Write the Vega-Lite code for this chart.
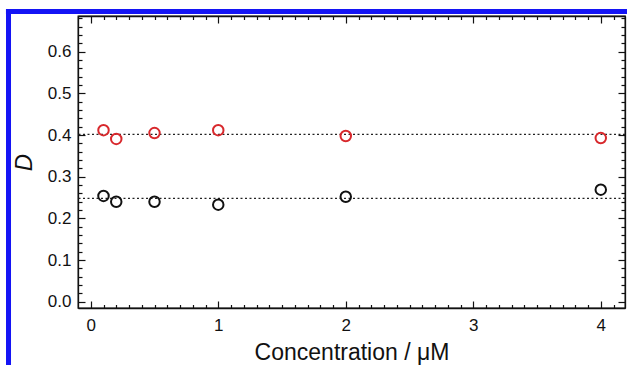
{
  "$schema": "https://vega.github.io/schema/vega-lite/v6.json",
  "autosize": {"type": "none"},
  "padding": {"left": 78, "top": 16, "right": 2, "bottom": 57},
  "width": 547,
  "height": 292,
  "background": "white",
  "config": {
    "font": "Liberation Sans",
    "view": {"stroke": "#111111", "strokeWidth": 1.3},
    "axis": {
      "domainColor": "#111111",
      "domainWidth": 1.3,
      "tickColor": "#111111",
      "tickWidth": 1.2,
      "tickCount": 1000,
      "labelColor": "#111111",
      "titleColor": "#111111",
      "labelFont": "Liberation Sans",
      "titleFont": "Liberation Sans",
      "labelFontSize": 17,
      "titleFontSize": 23,
      "titleFontWeight": "normal",
      "grid": false
    }
  },
  "datasets": {
    "points": [
      {"series": "red", "conc": 0.1, "D": 0.412},
      {"series": "red", "conc": 0.2, "D": 0.391},
      {"series": "red", "conc": 0.5, "D": 0.405},
      {"series": "red", "conc": 1, "D": 0.412},
      {"series": "red", "conc": 2, "D": 0.398},
      {"series": "red", "conc": 4, "D": 0.393},
      {"series": "black", "conc": 0.1, "D": 0.254},
      {"series": "black", "conc": 0.2, "D": 0.240},
      {"series": "black", "conc": 0.5, "D": 0.240},
      {"series": "black", "conc": 1, "D": 0.233},
      {"series": "black", "conc": 2, "D": 0.252},
      {"series": "black", "conc": 4, "D": 0.269}
    ],
    "means": [
      {"series": "red", "D": 0.402},
      {"series": "black", "D": 0.248}
    ]
  },
  "layer": [
    {
      "data": {"name": "means"},
      "mark": {"type": "rule", "strokeDash": [2, 2.5], "strokeWidth": 1.3, "color": "#222222"},
      "encoding": {
        "y": {"field": "D", "type": "quantitative", "scale": {"domain": [-0.015, 0.686], "nice": false, "zero": false}, "axis": null}
      }
    },
    {
      "data": {"name": "points"},
      "mark": {"type": "point", "shape": "circle", "filled": false, "size": 110, "strokeWidth": 2, "opacity": 1},
      "encoding": {
        "x": {
          "field": "conc", "type": "quantitative",
          "scale": {"domain": [-0.1, 4.19], "nice": false, "zero": false},
          "axis": {
            "orient": "bottom",
            "title": "Concentration / μM",
            "titlePadding": 5,
            "tickCount": 1000,
            "values": [0,0.1,0.2,0.3,0.4,0.5,0.6,0.7,0.8,0.9,1,1.1,1.2,1.3,1.4,1.5,1.6,1.7,1.8,1.9,2,2.1,2.2,2.3,2.4,2.5,2.6,2.7,2.8,2.9,3,3.1,3.2,3.3,3.4,3.5,3.6,3.7,3.8,3.9,4,4.1],
            "labelExpr": "abs(datum.value - round(datum.value)) < 1e-6 ? format(datum.value, 'd') : ''",
            "tickSize": {"condition": {"test": "abs(datum.value - round(datum.value)) < 1e-6", "value": -7}, "value": -3.5},
            "labelPadding": 16,
            "labelFlush": false,
            "labelOverlap": false
          }
        },
        "y": {
          "field": "D", "type": "quantitative",
          "scale": {"domain": [-0.015, 0.686], "nice": false, "zero": false},
          "axis": {
            "orient": "left",
            "title": "D",
            "titleFontStyle": "italic",
            "titleFontSize": 24,
            "titlePadding": 11,
            "tickCount": 1000,
            "values": [0,0.02,0.04,0.06,0.08,0.1,0.12,0.14,0.16,0.18,0.2,0.22,0.24,0.26,0.28,0.3,0.32,0.34,0.36,0.38,0.4,0.42,0.44,0.46,0.48,0.5,0.52,0.54,0.56,0.58,0.6,0.62,0.64,0.66,0.68],
            "labelExpr": "abs(datum.value*10 - round(datum.value*10)) < 1e-6 ? format(datum.value, '.1f') : ''",
            "tickSize": {"condition": {"test": "abs(datum.value*10 - round(datum.value*10)) < 1e-6", "value": -7}, "value": -4},
            "labelPadding": 14,
            "labelFlush": false,
            "labelOverlap": false
          }
        },
        "color": {
          "field": "series", "type": "nominal",
          "scale": {"domain": ["red", "black"], "range": ["#d8282c", "#111111"]},
          "legend": null
        }
      }
    },
    {
      "data": {"name": "points"},
      "mark": {"type": "point", "opacity": 0},
      "encoding": {
        "x": {
          "field": "conc", "type": "quantitative",
          "axis": {
            "orient": "top",
            "title": null,
            "labels": false,
            "tickCount": 1000,
            "values": [0,0.1,0.2,0.3,0.4,0.5,0.6,0.7,0.8,0.9,1,1.1,1.2,1.3,1.4,1.5,1.6,1.7,1.8,1.9,2,2.1,2.2,2.3,2.4,2.5,2.6,2.7,2.8,2.9,3,3.1,3.2,3.3,3.4,3.5,3.6,3.7,3.8,3.9,4,4.1],
            "tickSize": {"condition": {"test": "abs(datum.value - round(datum.value)) < 1e-6", "value": -7}, "value": -3.5}
          }
        },
        "y": {
          "field": "D", "type": "quantitative",
          "axis": {
            "orient": "right",
            "title": null,
            "labels": false,
            "tickCount": 1000,
            "values": [0,0.02,0.04,0.06,0.08,0.1,0.12,0.14,0.16,0.18,0.2,0.22,0.24,0.26,0.28,0.3,0.32,0.34,0.36,0.38,0.4,0.42,0.44,0.46,0.48,0.5,0.52,0.54,0.56,0.58,0.6,0.62,0.64,0.66,0.68],
            "tickSize": {"condition": {"test": "abs(datum.value*10 - round(datum.value*10)) < 1e-6", "value": -7}, "value": -4}
          }
        }
      }
    },
    {
      "data": {"values": [{}]},
      "mark": {"type": "rule", "color": "#1414f5", "strokeWidth": 5, "clip": false},
      "encoding": {
        "x": {"datum": -0.645, "type": "quantitative", "axis": null},
        "y": {"datum": 0.703, "type": "quantitative", "axis": null},
        "y2": {"datum": -0.3}
      }
    },
    {
      "data": {"values": [{}]},
      "mark": {"type": "rule", "color": "#1414f5", "strokeWidth": 5, "clip": false},
      "encoding": {
        "y": {"datum": 0.697, "type": "quantitative", "axis": null},
        "x": {"datum": -0.665, "type": "quantitative", "axis": null},
        "x2": {"datum": 4.4}
      }
    }
  ],
  "resolve": {"axis": {"x": "independent", "y": "independent"}}
}
